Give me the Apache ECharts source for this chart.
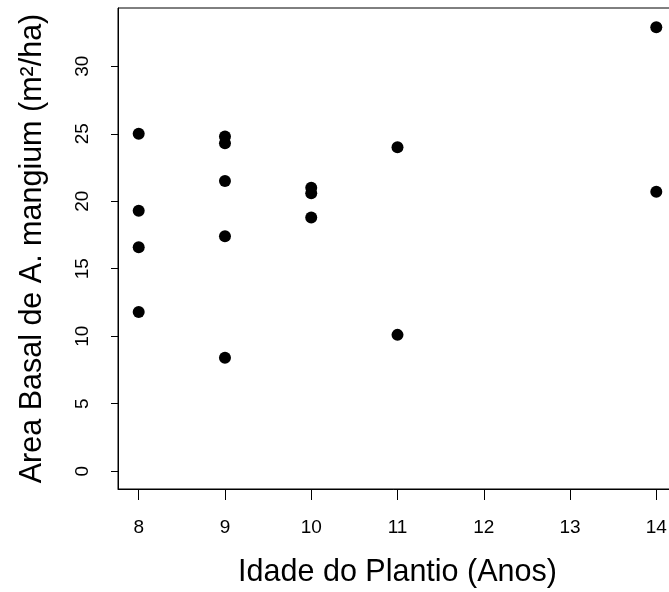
<!DOCTYPE html>
<html>
<head>
<meta charset="utf-8">
<script src="https://cdn.jsdelivr.net/npm/echarts@6/dist/echarts.min.js"></script>
<style>html,body{margin:0;padding:0;background:#fff}#c{width:669px;height:592px}</style>
</head>
<body>
<div id="c"></div>
<script>
const idade = [8, 8, 8, 8, 9, 9, 9, 9, 9, 10, 10, 10, 11, 11, 14, 14];
const areaBasal = [25.0, 19.3, 16.6, 11.8, 24.8, 24.3, 21.5, 17.4, 8.4, 21.0, 20.6, 18.8, 24.0, 10.1, 32.9, 20.7];
const xTicks = [8, 9, 10, 11, 12, 13, 14];
const yTicks = [0, 5, 10, 15, 20, 25, 30];
const xTitle = 'Idade do Plantio (Anos)';
const yTitle = 'Area Basal de A. mangium (m²/ha)';

const chart = echarts.init(document.getElementById('c'), null, {renderer: 'canvas'});
const font = 'Liberation Sans, Arial, sans-serif';
chart.setOption({
  animation: false,
  backgroundColor: '#fff',
  grid: {left: 118, top: 8, width: 559, height: 481, outerBoundsMode: 'none', containLabel: false,
         show: true, borderColor: '#000', borderWidth: 1, backgroundColor: 'transparent'},
  xAxis: {
    type: 'value', min: 7.76, max: 14.24,
    name: xTitle, nameLocation: 'middle', nameGap: 68,
    nameTextStyle: {fontFamily: font, fontSize: 30.5, color: '#000'},
    axisLine: {show: true, onZero: false, lineStyle: {color: '#000', width: 1}},
    axisTick: {show: true, length: 11, customValues: xTicks, lineStyle: {color: '#000'}},
    axisLabel: {customValues: xTicks, margin: 29, fontFamily: font, fontSize: 19, color: '#000'},
    splitLine: {show: false}
  },
  yAxis: {
    type: 'value', min: -1.32, max: 34.32,
    name: yTitle, nameLocation: 'middle', nameGap: 70, nameRotate: 90,
    nameTextStyle: {fontFamily: font, fontSize: 30.5, color: '#000'},
    axisLine: {show: true, onZero: false, lineStyle: {color: '#000', width: 1}},
    axisTick: {show: true, length: 7, customValues: yTicks, lineStyle: {color: '#000'}},
    axisLabel: {customValues: yTicks, rotate: 90, margin: 26, fontFamily: font, fontSize: 19, color: '#000'},
    splitLine: {show: false}
  },
  series: [{
    type: 'scatter',
    data: idade.map((x, i) => [x, areaBasal[i]]),
    symbol: 'circle', symbolSize: 12,
    itemStyle: {color: '#000', opacity: 1}
  }]
});
</script>
</body>
</html>
